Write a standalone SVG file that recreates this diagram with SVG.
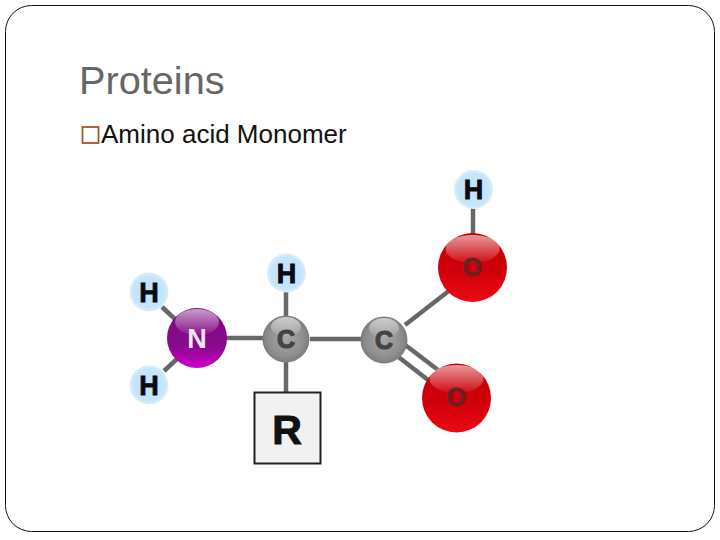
<svg xmlns="http://www.w3.org/2000/svg" width="720" height="540" viewBox="0 0 720 540">
<style>
.bond{stroke:#686868;stroke-width:4.500;fill:none}
.lab{font-family:"Liberation Sans",Arial,sans-serif;font-weight:700;text-anchor:middle}
.h{fill:url(#gh)}
.hl{fill:#0a0a12;font-size:27px;stroke:#0a0a12;stroke-width:.8}
.cl{fill:#444;font-size:25px;stroke:#444;stroke-width:1.200}
.ol{fill:#6a2020;font-size:25px;stroke:#6a2020;stroke-width:.8}
</style>
<defs>
<radialGradient id="gh" cx=".5" cy=".5" r=".5"><stop offset="0" stop-color="#bfe3fb"/><stop offset=".8" stop-color="#c4e5fb"/><stop offset="1" stop-color="#dceffc"/></radialGradient>
<radialGradient id="gc" cx=".5" cy=".5" r=".5"><stop offset="0" stop-color="#a8a8a8"/><stop offset=".75" stop-color="#8e8e8e"/><stop offset="1" stop-color="#7c7c7c"/></radialGradient>
<linearGradient id="gn" x1="0" y1="0" x2="0" y2="1"><stop offset="0" stop-color="#7a0a7c"/><stop offset=".65" stop-color="#8a0a8c"/><stop offset="1" stop-color="#d000cc"/></linearGradient>
<linearGradient id="go" x1="0" y1="0" x2="0" y2="1"><stop offset="0" stop-color="#c40008"/><stop offset=".55" stop-color="#d0000a"/><stop offset="1" stop-color="#ea0a12"/></linearGradient>
<linearGradient id="gs" x1="0" y1="0" x2="0" y2="1"><stop offset="0" stop-color="#fff" stop-opacity=".6"/><stop offset="1" stop-color="#fff" stop-opacity=".05"/></linearGradient>
</defs>
<rect width="720" height="540" fill="#fff"/>
<g id="frame"><rect x="5.500" y="5.500" width="709" height="526" rx="26" ry="26" fill="#fff" stroke="#111" stroke-width="1"/></g>
<g id="title"><text x="79" y="94" font-family="'Liberation Sans',Arial,sans-serif" font-size="39.700" fill="#666">Proteins</text></g>
<g id="bullet"><rect x="82.500" y="127" width="16" height="16" fill="none" stroke="#a8532f" stroke-width="1.800"/><text x="101" y="143" font-family="'Liberation Sans',Arial,sans-serif" font-size="26" fill="#111">Amino acid Monomer</text></g>
<g id="connectors" class="bond">
<path d="M473 205V240"/>
<path d="M405 325L450 290"/>
<path d="M392 352L432 383"/>
<path d="M404 344L438 370"/>
<path d="M310 339H362"/>
<path d="M226 338H264"/>
<path d="M286 290V316"/>
<path d="M286 362V392"/>
<path d="M162 307L176 320"/>
<path d="M164 371L178 358"/>
</g>
<g id="node-h1"><circle class="h" cx="149" cy="292" r="19.500"/><text class="lab hl" x="149" y="302">H</text></g>
<g id="node-h2"><circle class="h" cx="149" cy="385" r="19.500"/><text class="lab hl" x="149" y="395">H</text></g>
<g id="node-h3"><circle class="h" cx="286.500" cy="273" r="19.500"/><text class="lab hl" x="286.500" y="283">H</text></g>
<g id="node-h4"><circle class="h" cx="473.500" cy="189.500" r="19.500"/><text class="lab hl" x="473.500" y="199">H</text></g>
<g id="node-n"><circle cx="197" cy="338" r="30" fill="url(#gn)"/><ellipse cx="197" cy="322" rx="22" ry="13" fill="url(#gs)"/><text class="lab" x="197" y="348" font-size="27" fill="#f4e6f4">N</text></g>
<g id="node-c1"><circle cx="286" cy="339" r="23.500" fill="url(#gc)"/><ellipse cx="286" cy="327" rx="15" ry="10" fill="url(#gs)"/><text class="lab cl" x="286" y="348">C</text></g>
<g id="node-c2"><circle cx="384" cy="340" r="23.500" fill="url(#gc)"/><ellipse cx="384" cy="328" rx="15" ry="10" fill="url(#gs)"/><text class="lab cl" x="384" y="349">C</text></g>
<g id="node-o1"><circle cx="472.500" cy="267.500" r="34.500" fill="url(#go)"/><ellipse cx="472.500" cy="249" rx="27" ry="14" fill="url(#gs)"/><text class="lab ol" x="472.500" y="276">O</text></g>
<g id="node-o2"><circle cx="456.500" cy="398" r="34.500" fill="url(#go)"/><ellipse cx="456.500" cy="379" rx="27" ry="14" fill="url(#gs)"/><text class="lab ol" x="456.500" y="406">O</text></g>
<g id="node-r"><rect x="254.500" y="392.500" width="66" height="71" fill="#f1f1f1" stroke="#222" stroke-width="2"/><text class="lab" x="287" y="444" font-size="41" fill="#111" stroke="#111" stroke-width="1">R</text></g>
</svg>
